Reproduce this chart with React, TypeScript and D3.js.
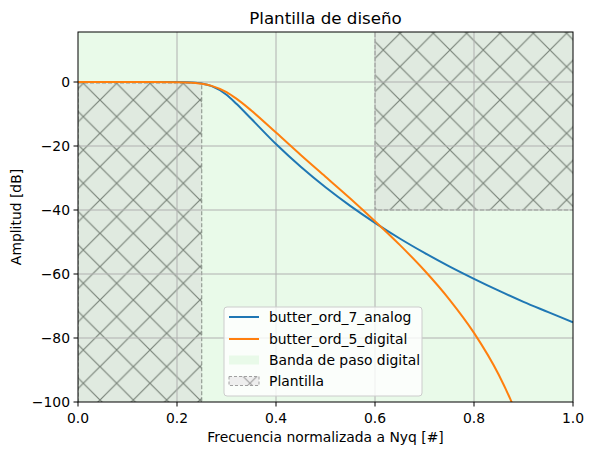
import React from "react";
import * as d3 from "d3";

const freqs = [0, 0.05, 0.1, 0.15, 0.2, 0.22, 0.25, 0.27, 0.3, 0.32, 0.35, 0.4, 0.45, 0.5, 0.55, 0.6, 0.65, 0.7, 0.75, 0.8, 0.85, 0.9, 0.95, 1.0];
const analog7 = [0, 0, 0, 0, -0.02, -0.09, -0.49, -1.3, -4.0, -6.8, -11.5, -19.4, -26.5, -32.9, -38.7, -44.0, -48.9, -53.4, -57.6, -61.5, -65.2, -68.7, -71.9, -75.1];
const digFreqs = [0, 0.05, 0.1, 0.15, 0.2, 0.22, 0.25, 0.27, 0.3, 0.32, 0.35, 0.4, 0.45, 0.5, 0.55, 0.6, 0.65, 0.7, 0.75, 0.8, 0.85, 0.88, 0.9];
const digital5 = [0, 0, 0, 0, -0.05, -0.14, -0.55, -1.2, -3.15, -5.2, -8.9, -15.8, -22.8, -29.6, -36.4, -43.5, -50.9, -58.9, -67.9, -78.4, -91.5, -101.5, -109.6];

const xTicks = [0, 0.2, 0.4, 0.6, 0.8, 1.0];
const yTicks = [-100, -80, -60, -40, -20, 0];

const passband = [0, 1];
const templatePass = { x0: 0, x1: 0.25, yTop: -0.3 };
const templateStop = { x0: 0.6, x1: 1.0, yBottom: -40 };

const legendLabels = ["butter_ord_7_analog", "butter_ord_5_digital", "Banda de paso digital", "Plantilla"];

const W = 594, H = 455;
const L = 78, R = 573, T = 32, B = 402;
const FONT = "DejaVu Sans, sans-serif";
const FS = 13.9;

export default function App() {
  const x = d3.scaleLinear().domain([0, 1]).range([L, R]);
  const y = d3.scaleLinear().domain([-100, 15.625]).range([B, T]);

  const lineA = d3.line<number>().x((_, i) => x(freqs[i])).y((d) => y(d)).curve(d3.curveMonotoneX);
  const lineD = d3.line<number>().x((_, i) => x(digFreqs[i])).y((d) => y(d)).curve(d3.curveMonotoneX);

  const hatchColor = "#7a847a";
  const hatchFill = "#e0eae0";
  const edge = "#858d85";
  const tile = 33.33;

  const lx = 224, ly = 307, lw = 198, lh = 89;
  const rows = [317, 339, 360, 381];

  return (
    <svg width={W} height={H} style={{ position: "absolute", left: 0, top: 0, background: "#fff" }} fontFamily={FONT}>
      <defs>
        <pattern id="hx" patternUnits="userSpaceOnUse" width={tile} height={tile} x={0} y={0}>
          <rect width={tile} height={tile} fill={hatchFill} />
          <path d={`M0,0L${tile},${tile}M0,${tile}L${tile},0`} stroke={hatchColor} strokeWidth={1.2} />
        </pattern>
        <pattern id="hxl" patternUnits="userSpaceOnUse" width={tile} height={tile} x={0} y={0}>
          <rect width={tile} height={tile} fill="#eeeeee" />
          <path d={`M0,0L${tile},${tile}M0,${tile}L${tile},0`} stroke="#a0a0a0" strokeWidth={1.2} />
        </pattern>
        <clipPath id="plot">
          <rect x={L} y={T} width={R - L} height={B - T} />
        </clipPath>
      </defs>

      <g clipPath="url(#plot)">
        <rect x={x(passband[0])} y={T} width={x(passband[1]) - x(passband[0])} height={B - T} fill="#e9fae9" />
        <rect x={x(templatePass.x0)} y={y(templatePass.yTop)} width={x(templatePass.x1) - x(templatePass.x0)} height={B - y(templatePass.yTop) + 5} fill="url(#hx)" stroke={edge} strokeDasharray="4,2" />
        <rect x={x(templateStop.x0)} y={T - 5} width={x(templateStop.x1) - x(templateStop.x0) + 5} height={y(templateStop.yBottom) - T + 5} fill="url(#hx)" stroke={edge} strokeDasharray="4,2" />
        {xTicks.slice(1, -1).map((t) => (
          <line key={"gx" + t} x1={x(t)} x2={x(t)} y1={T} y2={B} stroke="#b0b0b0" strokeWidth={1} />
        ))}
        {yTicks.slice(1).map((t) => (
          <line key={"gy" + t} x1={L} x2={R} y1={y(t)} y2={y(t)} stroke="#b0b0b0" strokeWidth={1} />
        ))}
        <path d={lineA(analog7) || ""} fill="none" stroke="#1f77b4" strokeWidth={2} />
        <path d={lineD(digital5) || ""} fill="none" stroke="#ff7f0e" strokeWidth={2} />
      </g>

      <rect x={L} y={T} width={R - L} height={B - T} fill="none" stroke="#000" strokeWidth={1} />

      {xTicks.map((t) => (
        <g key={"xt" + t}>
          <line x1={x(t)} x2={x(t)} y1={B} y2={B + 4.5} stroke="#000" />
          <text x={x(t)} y={B + 20.5} fontSize={FS} textAnchor="middle" fill="#000">{t.toFixed(1)}</text>
        </g>
      ))}
      {yTicks.map((t) => (
        <g key={"yt" + t}>
          <line x1={L - 4.5} x2={L} y1={y(t)} y2={y(t)} stroke="#000" />
          <text x={L - 8} y={y(t) + 5} fontSize={FS} textAnchor="end" fill="#000">{t < 0 ? "\u2212" + Math.abs(t) : String(t)}</text>
        </g>
      ))}

      <text x={(L + R) / 2} y={442} fontSize={FS} textAnchor="middle">Frecuencia normalizada a Nyq [#]</text>
      <text transform={`translate(21,${(T + B) / 2}) rotate(-90)`} fontSize={FS} textAnchor="middle">Amplitud [dB]</text>
      <text x={(L + R) / 2} y={24} fontSize={16.7} textAnchor="middle">Plantilla de diseño</text>

      <g>
        <rect x={lx} y={ly} width={lw} height={lh} rx={3} fill="#fff" fillOpacity={0.8} stroke="#cccccc" />
        <line x1={229} x2={259} y1={rows[0]} y2={rows[0]} stroke="#1f77b4" strokeWidth={2} />
        <line x1={229} x2={259} y1={rows[1]} y2={rows[1]} stroke="#ff7f0e" strokeWidth={2} />
        <rect x={229} y={rows[2] - 4.5} width={30} height={9} fill="#e9fae9" />
        <rect x={229} y={rows[3] - 4.5} width={30} height={9} fill="url(#hxl)" stroke="#a0a0a0" strokeDasharray="3,2" />
        {legendLabels.map((s, i) => (
          <text key={s} x={269} y={rows[i] + 5} fontSize={FS}>{s}</text>
        ))}
      </g>
    </svg>
  );
}
